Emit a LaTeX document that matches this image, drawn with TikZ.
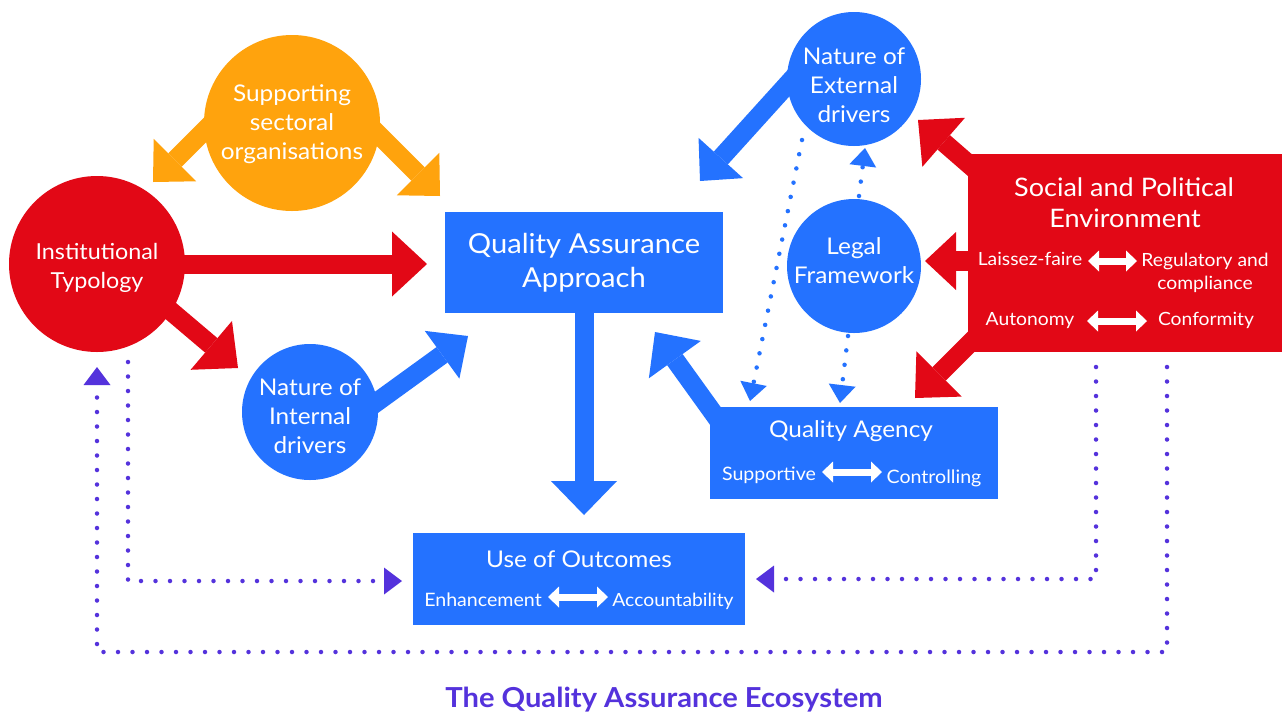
\documentclass[tikz,border=0pt]{standalone}
\usepackage{fontspec}
\setmainfont{Lato}[FakeStretch=1.06]
\usetikzlibrary{arrows.meta,calc}

\definecolor{qblue}{RGB}{36,114,255}
\definecolor{qred}{RGB}{226,8,22}
\definecolor{qorange}{RGB}{255,163,13}
\definecolor{qpurple}{RGB}{84,50,220}

\pgfdeclarelayer{bg}
\pgfsetlayers{bg,main}

\begin{document}
\begin{tikzpicture}[x=1pt,y=-1pt,
  disc/.style={circle, inner sep=0pt},
  disctext/.style={inner sep=0pt, text=white, align=center,
    font=\fontsize{23}{29}\selectfont},
  box/.style={rectangle, inner sep=0pt},
  lbl/.style={text=white, inner sep=0pt, anchor=base},
  bigarrow/.style={line width=19pt,
    -{Triangle[length=33pt,width=62pt,line width=0pt]}},
  dotline/.style={line width=4.5pt, line cap=round,
    dash pattern=on 0pt off 14.5pt},
  dotarrow/.style={dotline,
    -{Triangle[length=18pt,width=27pt,line width=0pt]}},
  twoway/.style={white, line width=7pt,
    {Triangle[length=11pt,width=21pt,line width=0pt]}-{Triangle[length=11pt,width=21pt,line width=0pt]}},
  smalltext/.style={lbl, font=\fontsize{18.2}{22}\selectfont},
]
\useasboundingbox (0,0) rectangle (1282,713);

% ---- circles and their labels ----
\node[disc, fill=qorange, minimum size=176pt] (org) at (292,123) {};
\node[disctext] (orgT) at ([yshift=-1pt]org.center) {Supporting\\sectoral\\organisations};
\node[disc, fill=qred, minimum size=176pt] (inst) at (97,264) {};
\node[disctext, font=\fontsize{22}{29}\selectfont] (instT) at ([yshift=-4pt]inst.center) {Institutional\\Typology};
\node[disc, fill=qblue, minimum size=134pt] (ext) at (854,79) {};
\node[disctext] (extT) at ([yshift=-6pt]ext.center) {Nature of\\External\\drivers};
\node[disc, fill=qblue, minimum size=134pt] (legal) at (854,266) {};
\node[disctext] (legalT) at ([yshift=5pt]legal.center) {Legal\\Framework};
\node[disc, fill=qblue, minimum size=136pt] (intd) at (310,412) {};
\node[disctext] (intdT) at ([yshift=-4.5pt]intd.center) {Nature of\\Internal\\drivers};

% ---- central approach box ----
\node[box, fill=qblue, minimum width=278pt, minimum height=101pt,
  text=white, align=center, font=\fontsize{27.5}{34}\selectfont]
  (qaa) at (584,262.5) {Quality Assurance\\Approach};

% ---- use of outcomes ----
\node[box, fill=qblue, minimum width=332pt, minimum height=92pt] (use) at (579,579) {};
\node[lbl, font=\fontsize{23}{28}\selectfont] (useT) at (579,567) {Use of Outcomes};
\node[lbl, font=\fontsize{18.5}{23}\selectfont] (enh) at (483,606) {Enhancement};
\node[lbl, font=\fontsize{18.2}{23}\selectfont] (acc) at (673,606) {Accountability};
\coordinate (useL) at (548,597);
\coordinate (useR) at (608,597);
\draw[twoway] (useL) -- (useR);

% ---- quality agency ----
\node[box, fill=qblue, minimum width=288pt, minimum height=92pt] (agency) at (854,453) {};
\node[lbl, font=\fontsize{23}{26}\selectfont] (agT) at (851,437) {Quality Agency};
\node[lbl, font=\fontsize{18.5}{22}\selectfont] (sup) at (769,480) {Supportive};
\node[lbl, font=\fontsize{18.5}{22}\selectfont] (ctrl) at (934,483) {Controlling};
\coordinate (agL) at (822,472);
\coordinate (agR) at (882,472);
\draw[twoway] (agL) -- (agR);

% ---- social and political environment ----
\node[box, fill=qred, minimum width=314pt, minimum height=198pt] (social) at (1125,253) {};
\node[lbl, font=\fontsize{25.5}{31}\selectfont] (soc1) at (1124,196) {Social and Political};
\node[lbl, font=\fontsize{25.5}{31}\selectfont] (soc2) at (1125,227) {Environment};
\node[smalltext] (lf) at (1030,265) {Laissez-faire};
\node[smalltext] (reg) at (1205,266) {Regulatory and};
\node[smalltext] (comp) at (1205,289) {compliance};
\node[smalltext] (aut) at (1030,325) {Autonomy};
\node[smalltext] (conf) at (1206,325) {Conformity};
\coordinate (lfL) at (1088,261);
\coordinate (lfR) at (1137,261);
\draw[twoway] (lfL) -- (lfR);
\coordinate (auL) at (1087,321);
\coordinate (auR) at (1147,321);
\draw[twoway] (auL) -- (auR);

% ---- caption ----
\node[anchor=base, inner sep=0pt, text=qpurple,
  font=\bfseries\fontsize{27.5}{30}\selectfont] (caption) at (664,707)
  {The Quality Assurance Ecosystem};

% ---- dotted links ----
\coordinate (d1s) at (802,140);
\coordinate (d1t) at (750,401);
\coordinate (d2s) at (848,336);
\coordinate (d2t) at (840,403);
\coordinate (d3s) at (859,196);
\coordinate (d3t) at (865,148);
\draw[qblue, dotarrow] (d1s) -- (d1t);
\draw[qblue, dotarrow] (d2s) -- (d2t);
\draw[qblue, dotarrow] (d3s) -- (d3t);

\coordinate (p1s) at (128,362);
\coordinate (p1t) at (402,581);
\coordinate (p2s) at (1096,367);
\coordinate (p2t) at (756,579);
\coordinate (p3s) at (1167,367);
\coordinate (p3t) at (97,367);
\draw[qpurple, dotarrow] (p1s) |- (p1t);
\draw[qpurple, dotarrow] (p2s) |- (p2t);
\draw[qpurple, dotarrow] (p3s) -- (1167,652) -| (p3t);

% ---- block arrows, behind the shapes ----
\begin{pgfonlayer}{bg}
\fill[white] (0,0) rectangle (1282,713);
\path (org.center) ++(-67,-13) coordinate (o1s);
\path (org.center) ++(68,-7) coordinate (o2s);
\coordinate (o1t) at (153,182);
\coordinate (o2t) at (440,196);
\draw[qorange, bigarrow, -{Triangle[length=31pt,width=60pt,line width=0pt]}] (o1s) -- (o1t);
\draw[qorange, bigarrow, -{Triangle[length=31pt,width=60pt,line width=0pt]}] (o2s) -- (o2t);

\coordinate (r1t) at (427,264);
\path (inst.center) ++(23,4) coordinate (r2s);
\coordinate (r2t) at (238,368);
\draw[qred, bigarrow, -{Triangle[length=35pt,width=65pt,line width=0pt]}] (inst.center) -- (r1t);
\draw[qred, bigarrow, -{Triangle[length=35pt,width=64pt,line width=0pt]}] (r2s) -- (r2t);

\coordinate (b1t) at (584,515);
\draw[qblue, bigarrow, -{Triangle[length=34pt,width=66pt,line width=0pt]}] (qaa.center) -- (b1t);
\path (intd.center) ++(20,24) coordinate (b2s);
\coordinate (b2t) at (468,336);
\draw[qblue, bigarrow, -{Triangle[length=32pt,width=59pt,line width=0pt]}] (b2s) -- (b2t);
\path (ext.center) ++(-40,-24) coordinate (b3s);
\coordinate (b3t) at (700,181);
\draw[qblue, bigarrow, -{Triangle[length=31pt,width=60pt,line width=0pt]}] (b3s) -- (b3t);
\path (agency.center) ++(-135,-32) coordinate (b4s);
\coordinate (b4t) at (655,332);
\draw[qblue, bigarrow, -{Triangle[length=34pt,width=64pt,line width=0pt]}] (b4s) -- (b4t);

\path (social.center) ++(-123,-60) coordinate (s1s);
\coordinate (s1t) at (918,120);
\draw[qred, bigarrow, -{Triangle[length=34pt,width=65pt,line width=0pt]}] (s1s) -- (s1t);
\path (social.center) ++(-125,8) coordinate (s2s);
\coordinate (s2t) at (925,261);
\draw[qred, bigarrow, line width=20pt, -{Triangle[length=31pt,width=58pt,line width=0pt]}] (s2s) -- (s2t);
\path (social.center) ++(-132,67) coordinate (s3s);
\coordinate (s3t) at (915,398);
\draw[qred, bigarrow, -{Triangle[length=34pt,width=64pt,line width=0pt]}] (s3s) -- (s3t);
\end{pgfonlayer}
\end{tikzpicture}
\end{document}
